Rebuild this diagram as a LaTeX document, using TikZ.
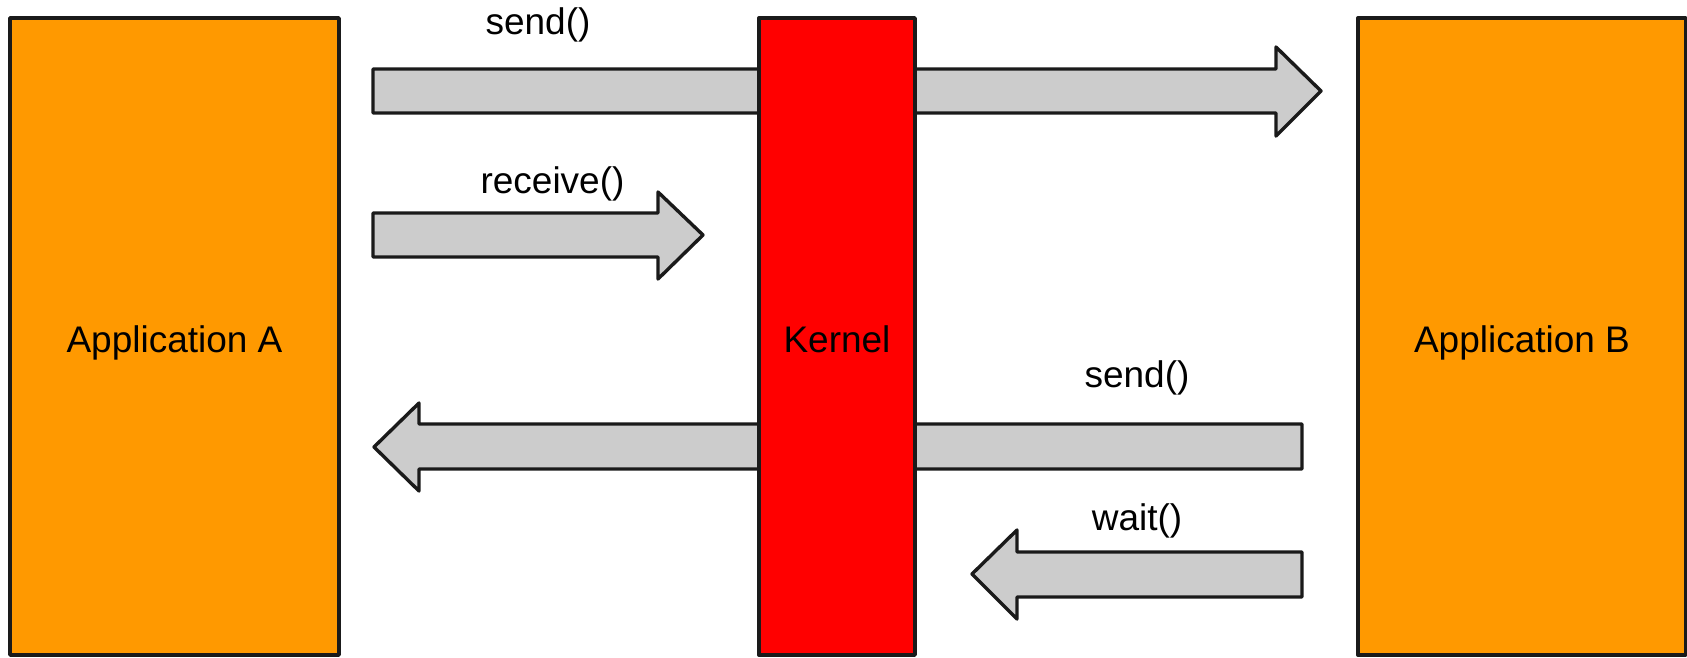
\documentclass[tikz,border=0pt]{standalone}
\usepackage{fontspec}
\setmainfont{Liberation Sans}
\definecolor{apporange}{HTML}{FF9900}
\definecolor{kernelred}{HTML}{FF0000}
\definecolor{pipegray}{HTML}{CCCCCC}
\definecolor{edge}{HTML}{1A1A1A}
\begin{document}
\begin{tikzpicture}[x=1pt,y=-1pt,
  box/.style={draw=edge,line width=3.4pt,line join=round},
  blockarrow/.style={draw=edge,fill=pipegray,line width=3.4pt,line join=round},
  lbl/.style={font=\fontsize{37}{44}\selectfont,anchor=base,inner sep=0pt}]
\useasboundingbox (0,0) rectangle (1687,657);

% application processes
\draw[box,fill=apporange] (10,18) rectangle (339,655);
\draw[box,fill=apporange] (1358,18) rectangle (1686,655);
\node[lbl] (appA) at (174.5,352) {Application A};
\node[lbl] (appB) at (1522,352) {Application B};

% send() from A to B, passing through the kernel
\draw[blockarrow] (373,69) -- (1276,69) -- (1276,47) -- (1321,91) -- (1276,136)
  -- (1276,113) -- (373,113) -- cycle;
% send() from B to A, passing through the kernel
\draw[blockarrow] (1302,424) -- (419,424) -- (419,403) -- (374,447) -- (419,491)
  -- (419,469) -- (1302,469) -- cycle;

% kernel drawn over the pass-through arrows
\draw[box,fill=kernelred] (759,18) rectangle (915,655);
\node[lbl] (kernel) at (837,352) {Kernel};

% receive() into the kernel
\draw[blockarrow] (373,213) -- (658,213) -- (658,192) -- (703,235) -- (658,279)
  -- (658,257) -- (373,257) -- cycle;
% wait() into the kernel
\draw[blockarrow] (1302,552) -- (1017,552) -- (1017,530) -- (972,574) -- (1017,619)
  -- (1017,597) -- (1302,597) -- cycle;

% call labels
\node[lbl] (sendAB) at (538,34) {send()};
\node[lbl] (recv) at (552.5,193) {receive()};
\node[lbl] (sendBA) at (1137,387) {send()};
\node[lbl] (wait) at (1137,530) {wait()};
\end{tikzpicture}
\end{document}
